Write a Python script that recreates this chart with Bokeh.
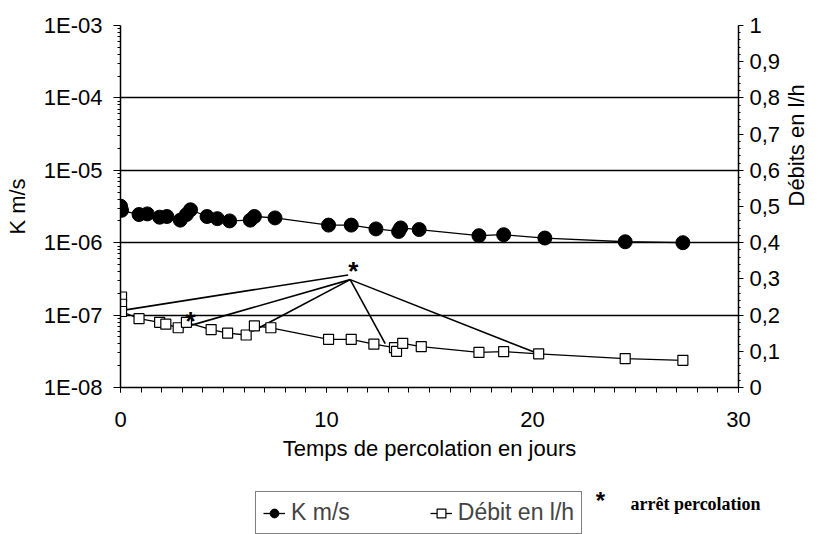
import math
from bokeh.plotting import figure
from bokeh.layouts import column
from bokeh.models import (Range1d, LinearAxis, LinearScale, FixedTicker, CustomJSTickFormatter,
                          Legend, LegendItem, Label)
from bokeh.core.properties import value
from bokeh.embed import file_html
from bokeh.resources import INLINE

# ---- data ----
# Permeability K (m/s), left log axis
k_days = [0.0, 0.05, 0.9, 1.3, 1.9, 2.25, 2.9, 3.2, 3.4, 4.2, 4.7, 5.3, 6.3, 6.5, 7.5,
          10.1, 11.2, 12.4, 13.5, 13.6, 14.5, 17.4, 18.6, 20.6, 24.5, 27.3]
k_vals = [3.2e-6, 2.8e-6, 2.45e-6, 2.5e-6, 2.25e-6, 2.3e-6, 2.05e-6, 2.45e-6, 2.85e-6,
          2.3e-6, 2.15e-6, 2.0e-6, 2.05e-6, 2.3e-6, 2.2e-6,
          1.75e-6, 1.75e-6, 1.55e-6, 1.43e-6, 1.6e-6, 1.52e-6, 1.25e-6, 1.29e-6,
          1.16e-6, 1.03e-6, 1.0e-6]

# Flow rate (l/h), right axis
d_days = [0.05, 0.05, 0.05, 0.9, 1.9, 2.2, 2.8, 3.2, 4.4, 5.2, 6.1, 6.5, 7.3,
          10.1, 11.2, 12.3, 13.3, 13.4, 13.7, 14.6, 17.4, 18.6, 20.3, 24.5, 27.3]
d_vals = [0.25, 0.23, 0.21, 0.19, 0.18, 0.175, 0.165, 0.18, 0.16, 0.15, 0.145, 0.17, 0.165,
          0.133, 0.133, 0.12, 0.11, 0.10, 0.122, 0.113, 0.097, 0.099, 0.093, 0.08, 0.075]

# "arrêt percolation" segments (flow line jumping to the stop point)
arret_from_days = [0.1, 2.95, 6.4, 12.85, 20.2]
arret_from_vals = [0.213, 0.164, 0.155, 0.121, 0.095]
arret_to_days = [11.05, 11.15, 11.15, 11.15, 11.15]
arret_to_vals = [0.311, 0.298, 0.298, 0.298, 0.298]

# stop markers (*)
star_days = [3.4, 11.3]
star_vals = [0.205, 0.345]

# ticks
k_ticks = [1e-8, 1e-7, 1e-6, 1e-5, 1e-4, 1e-3]
k_minor = [m * 10.0 ** e for e in range(-8, -3) for m in range(2, 10)]
x_ticks = [0, 10, 20, 30]
x_minor = list(range(0, 31))
d_ticks = [0, 0.1, 0.2, 0.3, 0.4, 0.5, 0.6, 0.7, 0.8, 0.9, 1.0]
d_minor = [i / 50 for i in range(0, 51)]

FONT = "Liberation Sans"
FS = "22px"

W = 824
H1 = 470
H2 = 64
BL, BR = 120, 81

p = figure(width=W, height=H1, x_range=Range1d(0, 30), y_range=Range1d(1e-8, 1e-3),
           y_axis_type="log", output_backend="svg", toolbar_location=None,
           min_border_left=BL, min_border_right=BR, min_border_top=25, min_border_bottom=83)
p.outline_line_color = None
p.background_fill_color = "white"
p.border_fill_color = "white"
p.extra_y_ranges = {"debit": Range1d(0, 1)}
p.extra_y_scales = {"debit": LinearScale()}
p.frame_align = False

# grid
p.xgrid.visible = False
p.ygrid.ticker = FixedTicker(ticks=k_ticks)
p.ygrid.grid_line_color = "black"
p.ygrid.grid_line_width = 1.5
p.ygrid.minor_grid_line_color = None

# x axis
xa = p.xaxis[0]
xa.ticker = FixedTicker(ticks=x_ticks, minor_ticks=x_minor)
xa.axis_label = "Temps de percolation en jours"

# left axis
ya = p.yaxis[0]
ya.ticker = FixedTicker(ticks=k_ticks, minor_ticks=k_minor)
ya.formatter = CustomJSTickFormatter(
    code="const e = Math.round(Math.log10(tick)); return '1E-' + String(-e).padStart(2,'0');")
ya.axis_label = "K m/s"

# right axis
ra = LinearAxis(y_range_name="debit",
                ticker=FixedTicker(ticks=d_ticks, minor_ticks=d_minor),
                formatter=CustomJSTickFormatter(
                    code="if (tick === 0) return '0'; if (Math.abs(tick-1) < 1e-9) return '1'; return tick.toFixed(1).replace('.', ',');"),
                axis_label="Débits en l/h")
p.add_layout(ra, "right")

for ax in [xa, ya, ra]:
    ax.axis_line_color = "black"
    ax.axis_line_width = 1.5
    ax.major_tick_line_color = "black"
    ax.minor_tick_line_color = "black"
    ax.major_label_text_font = FONT
    ax.major_label_text_font_size = FS
    ax.major_label_text_color = "black"
    ax.axis_label_text_font = FONT
    ax.axis_label_text_font_size = FS
    ax.axis_label_text_font_style = "normal"
    ax.axis_label_text_color = "black"

xa.major_tick_out = 5
xa.major_tick_in = 0
xa.minor_tick_out = 5
xa.minor_tick_in = 0
xa.major_label_standoff = 19
xa.axis_label_standoff = 6

ya.major_tick_out = 7
ya.major_tick_in = 0
ya.minor_tick_out = 3
ya.minor_tick_in = 0
ya.major_label_standoff = 11
ya.axis_label_standoff = 11

ra.major_tick_out = 5
ra.major_tick_in = 0
ra.minor_tick_out = 2
ra.minor_tick_in = 0
ra.major_label_standoff = 6
ra.axis_label_standoff = 13
ra.axis_label_orientation = math.pi / 2

# arrêt lines
for fx, fy, tx, ty in zip(arret_from_days, arret_from_vals, arret_to_days, arret_to_vals):
    p.line([fx, tx], [fy, ty], y_range_name="debit", line_color="black", line_width=1.6)

# K series
p.line(k_days, k_vals, line_color="black", line_width=1.3)
p.scatter(k_days, k_vals, marker="circle", size=14, fill_color="black", line_color="black")

# Débit series
p.line(d_days, d_vals, y_range_name="debit", line_color="black", line_width=1.3)
p.scatter(d_days, d_vals, y_range_name="debit", marker="square", size=10,
          fill_color="white", line_color="black", line_width=1.2)

# stop stars
p.text(star_days, star_vals, text=["*"] * len(star_days), y_range_name="debit",
       text_align="center", text_baseline="middle", text_font=value(FONT),
       text_font_size="26px", text_font_style="bold", text_color="black", y_offset=8)

# ---- legend strip below the chart ----
# x range starts past the data, so the swatch renderers below draw nothing in the strip
p2 = figure(width=W, height=H2, x_range=Range1d(100, 100 + W), y_range=Range1d(0, H2),
            output_backend="svg", toolbar_location=None, min_border=0,
            x_axis_location=None, y_axis_location=None)
p2.frame_align = False
p2.grid.visible = False
p2.outline_line_color = None
p2.background_fill_color = "white"
p2.border_fill_color = "white"

lk = p2.line(k_days, k_vals, line_color="black", line_width=1.3)
sk = p2.scatter(k_days, k_vals, marker="circle", size=10, fill_color="black", line_color="black")
ld = p2.line(d_days, d_vals, line_color="black", line_width=1.3)
sd = p2.scatter(d_days, d_vals, marker="square", size=9, fill_color="white", line_color="black",
                line_width=1.2)

legend = Legend(items=[LegendItem(label="K m/s", renderers=[lk, sk]),
                       LegendItem(label="Débit en l/h", renderers=[ld, sd])],
                location=(255, 0), orientation="horizontal",
                border_line_color="black", border_line_width=1.2,
                label_text_font=FONT, label_text_font_size="23px", label_height=26,
                glyph_width=22, glyph_height=26, label_standoff=6, spacing=80,
                padding=7, margin=0,
                background_fill_color="white", background_fill_alpha=1)
p2.add_layout(legend)

p2.add_layout(Label(x=600, y=21, x_units="screen", y_units="screen", text="*",
                    text_align="center", text_font=FONT,
                    text_font_size="24px", text_font_style="bold", text_color="black"))
p2.add_layout(Label(x=630, y=21, x_units="screen", y_units="screen", text="arrêt percolation",
                    text_font="Liberation Serif",
                    text_font_size="18px", text_font_style="bold", text_color="black"))

open("out.html", "w").write(file_html(column(p, p2, spacing=0), INLINE))
